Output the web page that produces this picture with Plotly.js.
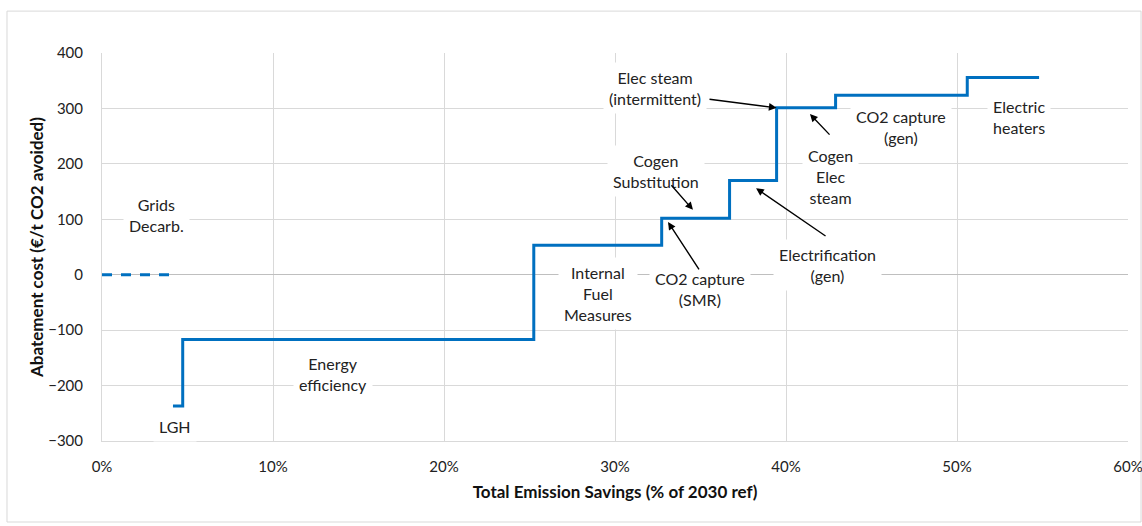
<!DOCTYPE html>
<html><head><meta charset="utf-8">
<script src="https://cdn.plot.ly/plotly-3.0.1.min.js"></script>
<style>html,body{margin:0;padding:0;background:#fff}#chart{width:1142px;height:526px}</style>
</head><body><div id="chart"></div>
<script>
// Step curve: cumulative savings (% of 2030 ref) and abatement cost (€/t CO2)
const stepX = [4.15, 4.72, 4.72, 25.25, 25.25, 32.73, 32.73, 36.7, 36.7, 39.45, 39.45, 42.9, 42.9, 50.6, 50.6, 54.8];
const stepY = [-237, -237, -117, -117, 53, 53, 102, 102, 170, 170, 301, 301, 324, 324, 356, 356];
// Grids decarbonisation (dashed, zero cost)
const gridsX = [0, 4.2];
const gridsY = [0, 0];
const xTicks = [0, 10, 20, 30, 40, 50, 60];
const yTicks = [-300, -200, -100, 0, 100, 200, 300, 400];

const FONT = 'Lato, "Open Sans", "Liberation Sans", sans-serif';
const blue = 'rgb(0,112,192)';

const traces = [
  {x: stepX, y: stepY, type: 'scatter', mode: 'lines', line: {color: blue, width: 3}, hoverinfo: 'skip'},
  {x: gridsX, y: gridsY, type: 'scatter', mode: 'lines', line: {color: blue, width: 3, dash: '10px,9px'}, hoverinfo: 'skip'}
];

function lbl(text, x, y) {
  return {text: text, x: x, y: y, xref: 'x', yref: 'y', showarrow: false,
    font: {family: FONT, size: 16, color: '#222'}, bgcolor: '#fff', borderpad: 5, align: 'center'};
}
function arr(x, y, ax, ay) {
  return {text: '', x: x, y: y, ax: ax, ay: ay, xref: 'x', yref: 'y', axref: 'x', ayref: 'y',
    showarrow: true, arrowhead: 2, arrowsize: 1.1, arrowwidth: 1.4, arrowcolor: '#000'};
}

const annotations = [
  lbl('Grids<br>Decarb.', 3.2, 107),
  lbl('LGH', 4.25, -273),
  lbl('Energy<br>efficiency', 13.5, -180),
  lbl('Internal<br>Fuel<br>Measures', 29.0, -33),
  lbl('CO2 capture<br>(SMR)', 34.97, -25),
  lbl('Cogen<br>Substitution', 32.4, 188),
  lbl('Elec steam<br>(intermittent)', 32.35, 336),
  lbl('Cogen<br>Elec<br>steam', 42.6, 178),
  lbl('Electrification<br>(gen)', 42.4, 17),
  lbl('CO2 capture<br>(gen)', 46.7, 267),
  lbl('Electric<br>heaters', 53.6, 284),
  arr(39.45, 301, 35.44, 317),
  arr(34.56, 117, 33.22, 164),
  arr(33.1, 95, 34.97, 7),
  arr(38.25, 156, 42.4, 68),
  arr(41.4, 290, 42.63, 250)
];

const layout = {
  width: 1142, height: 526,
  margin: {l: 102, r: 14, t: 53, b: 85},
  paper_bgcolor: '#fff', plot_bgcolor: '#fff',
  showlegend: false,
  font: {family: FONT, size: 15, color: '#222'},
  xaxis: {
    range: [0, 60], tickvals: xTicks, ticktext: xTicks.map(v => v + '%'),
    showgrid: true, gridcolor: '#d9d9d9', gridwidth: 1,
    zeroline: false, showline: true, linecolor: '#d9d9d9', mirror: false,
    ticks: '', ticklabelstandoff: 12, ticklabeloverflow: 'allow', tickfont: {family: FONT, size: 15, color: '#222'},
    automargin: false,
    title: {text: '<b>Total Emission Savings (% of 2030 ref)</b>', font: {family: FONT, size: 17, color: '#111'}, standoff: 12}
  },
  yaxis: {
    range: [-300, 400], tickvals: yTicks,
    showgrid: true, gridcolor: '#d9d9d9', gridwidth: 1,
    zeroline: true, zerolinecolor: '#bfbfbf', zerolinewidth: 1,
    showline: true, linecolor: '#d9d9d9', automargin: false,
    ticks: '', ticklabelstandoff: 15, tickfont: {family: FONT, size: 15, color: '#222'},
    title: {text: '<b>Abatement cost (€/t CO2 avoided)</b>', font: {family: FONT, size: 17, color: '#111'}, standoff: 0}
  },
  shapes: [
    {type: 'rect', xref: 'paper', yref: 'paper', x0: -0.0926, x1: 1.0127, y0: -0.2088, y1: 1.108,
      line: {color: '#d9d9d9', width: 1}, fillcolor: 'rgba(0,0,0,0)', layer: 'below'}
  ],
  annotations: annotations
};

Plotly.newPlot('chart', traces, layout, {staticPlot: true, displayModeBar: false});
</script>
</body></html>
